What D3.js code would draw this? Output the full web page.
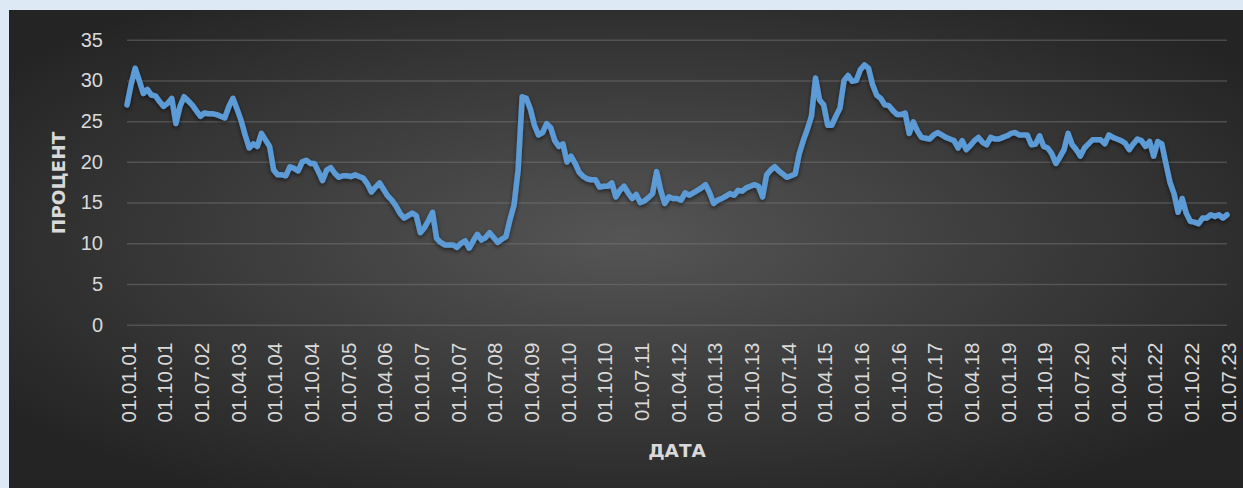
<!DOCTYPE html>
<html>
<head>
<meta charset="utf-8">
<script src="https://cdn.jsdelivr.net/npm/d3@7"></script>
<style>
  html, body { margin: 0; padding: 0; background: #dee9f6; }
  svg { display: block; }
</style>
</head>
<body>
<svg id="chart" width="1243" height="488"></svg>
<script>
// Monthly rate, %, January 2001 – July 2023
const rate = [
  27.0, 29.5, 31.5, 30.0, 28.4, 28.9, 28.2, 28.1, 27.4, 26.8, 27.2, 27.8, // 2001
  24.7, 26.8, 28.0, 27.5, 27.0, 26.3, 25.6, 26.0, 25.9, 25.9, 25.8, 25.6, // 2002
  25.4, 26.8, 27.8, 26.5, 25.1, 23.3, 21.7, 22.2, 21.9, 23.5, 22.7, 21.9, // 2003
  19.0, 18.4, 18.4, 18.3, 19.4, 19.2, 18.9, 20.0, 20.2, 19.8, 19.8, 18.8, // 2004
  17.7, 19.0, 19.3, 18.6, 18.1, 18.3, 18.3, 18.2, 18.4, 18.2, 18.0, 17.3, // 2005
  16.3, 16.9, 17.4, 16.6, 15.8, 15.3, 14.6, 13.7, 13.1, 13.4, 13.7, 13.4, // 2006
  11.3, 11.9, 12.8, 13.8, 10.6, 10.1,  9.8,  9.8,  9.8,  9.5, 10.0, 10.3, // 2007
   9.4, 10.3, 11.1, 10.4, 10.7, 11.3, 10.7, 10.1, 10.5, 10.8, 12.9, 14.7, // 2008
  19.0, 28.0, 27.8, 26.5, 24.5, 23.3, 23.6, 24.7, 24.2, 22.6, 21.9, 22.2, // 2009
  20.0, 20.7, 19.8, 18.7, 18.2, 17.9, 17.8, 17.8, 16.9, 17.0, 17.0, 17.4, // 2010
  15.7, 16.5, 17.0, 16.2, 15.5, 16.0, 15.0, 15.2, 15.6, 16.1, 18.8, 16.5, // 2011
  14.9, 15.7, 15.5, 15.5, 15.3, 16.2, 15.9, 16.2, 16.5, 16.8, 17.2, 16.2, // 2012
  14.9, 15.3, 15.5, 15.8, 16.1, 15.9, 16.5, 16.4, 16.8, 17.0, 17.2, 17.0, // 2013
  15.7, 18.4, 19.0, 19.4, 18.9, 18.5, 18.1, 18.3, 18.5, 21.0, 22.6, 24.0, // 2014
  25.6, 30.3, 27.6, 27.0, 24.5, 24.5, 25.6, 26.6, 30.0, 30.6, 29.9, 30.0, // 2015
  31.3, 31.9, 31.5, 29.5, 28.2, 27.8, 27.0, 26.9, 26.3, 25.8, 25.8, 26.0, // 2016
  23.5, 24.9, 23.8, 23.0, 22.9, 22.8, 23.3, 23.6, 23.3, 23.0, 22.8, 22.6, // 2017
  21.7, 22.6, 21.5, 22.0, 22.6, 23.0, 22.4, 22.1, 23.0, 22.8, 22.8, 23.0, // 2018
  23.2, 23.5, 23.6, 23.3, 23.3, 23.3, 22.1, 22.2, 23.2, 21.9, 21.7, 21.0, // 2019
  19.8, 20.6, 21.5, 23.5, 22.1, 21.5, 20.7, 21.7, 22.2, 22.7, 22.7, 22.7, // 2020
  22.2, 23.3, 23.0, 22.8, 22.6, 22.3, 21.5, 22.2, 22.8, 22.6, 21.9, 22.5, // 2021
  20.7, 22.5, 22.2, 19.8, 17.5, 16.1, 13.8, 15.5, 13.7, 12.7, 12.6, 12.4, // 2022
  13.1, 13.1, 13.5, 13.3, 13.5, 13.1, 13.5                                // 2023
];

// One category per month, labelled "01.MM.YY"
const fmt = d3.timeFormat("01.%m.%y");
const months = d3.timeMonth.range(new Date(2001, 0, 1), new Date(2023, 7, 1)).map(fmt);

// Category labels shown on the axis (every ninth month)
const xTickLabels = [
  "01.01.01", "01.10.01", "01.07.02", "01.04.03", "01.01.04", "01.10.04",
  "01.07.05", "01.04.06", "01.01.07", "01.10.07", "01.07.08", "01.04.09",
  "01.01.10", "01.10.10", "01.07.11", "01.04.12", "01.01.13", "01.10.13",
  "01.07.14", "01.04.15", "01.01.16", "01.10.16", "01.07.17", "01.04.18",
  "01.01.19", "01.10.19", "01.07.20", "01.04.21", "01.01.22", "01.10.22",
  "01.07.23"
];
const yTicks = [0, 5, 10, 15, 20, 25, 30, 35];

const yTitle = "ПРОЦЕНТ";
const xTitle = "ДАТА";

const svg = d3.select("#chart");
const defs = svg.append("defs");

// Dark panel with a lighter centre
const grad = defs.append("radialGradient")
  .attr("id", "panelFill")
  .attr("cx", "0.5").attr("cy", "0.48").attr("r", "0.62");
grad.append("stop").attr("offset", "0").attr("stop-color", "#555555");
grad.append("stop").attr("offset", "1").attr("stop-color", "#242424");

const shadow = defs.append("filter")
  .attr("id", "lineShadow")
  .attr("x", "-5%").attr("y", "-20%").attr("width", "110%").attr("height", "140%");
shadow.append("feDropShadow")
  .attr("dx", 0).attr("dy", 2).attr("stdDeviation", 2)
  .attr("flood-color", "#000").attr("flood-opacity", 0.55);

svg.append("rect")
  .attr("x", 9).attr("y", 10)
  .attr("width", 1243 - 9).attr("height", 488 - 10)
  .attr("fill", "url(#panelFill)");

const plot = { left: 127, right: 1227, top: 39.7, bottom: 324.7 };

const x = d3.scalePoint().domain(months).range([plot.left, plot.right]);
const y = d3.scaleLinear().domain([0, 35]).range([plot.bottom, plot.top]);

const font = "'Liberation Sans', Arial, sans-serif";
const titleFont = "'DejaVu Sans', sans-serif";
const textColor = "#d9d9d9";

// Horizontal gridlines
svg.append("g")
  .attr("transform", `translate(${plot.left},0)`)
  .call(d3.axisLeft(y).tickValues(yTicks).tickSize(-(plot.right - plot.left)).tickFormat(""))
  .call(g => g.select(".domain").remove())
  .call(g => g.selectAll(".tick line")
    .attr("stroke", "#7a7a7a").attr("stroke-opacity", 0.45).attr("stroke-width", 1.5));

// Y axis labels
svg.append("g")
  .attr("transform", `translate(${plot.left},0)`)
  .call(d3.axisLeft(y).tickValues(yTicks).tickSize(0).tickPadding(24))
  .call(g => g.select(".domain").remove())
  .call(g => g.selectAll("text")
    .attr("fill", textColor).style("font-family", font).style("font-size", "20px"));

// X axis labels, rotated
svg.append("g")
  .attr("transform", `translate(0,${plot.bottom})`)
  .call(d3.axisBottom(x).tickValues(xTickLabels).tickSize(0))
  .call(g => g.select(".domain").remove())
  .call(g => g.selectAll("text")
    .attr("fill", textColor)
    .style("font-family", font).style("font-size", "20.5px")
    .attr("text-anchor", "end")
    .attr("transform", "rotate(-90)")
    .attr("x", -18).attr("y", 1).attr("dy", "0.35em"));

// Data line
const line = d3.line()
  .x((d, i) => x(months[i]))
  .y(d => y(d));

svg.append("path")
  .datum(rate)
  .attr("d", line)
  .attr("fill", "none")
  .attr("stroke", "#5b9bd5")
  .attr("stroke-width", 5.5)
  .attr("stroke-linejoin", "round")
  .attr("stroke-linecap", "round")
  .attr("filter", "url(#lineShadow)");

// Axis titles
svg.append("text")
  .attr("transform", "translate(65,183) rotate(-90)")
  .attr("text-anchor", "middle")
  .attr("fill", textColor)
  .style("font-family", titleFont).style("font-size", "18.5px").style("font-weight", "bold")
  .text(yTitle);

svg.append("text")
  .attr("x", 677).attr("y", 457)
  .attr("text-anchor", "middle")
  .attr("fill", textColor)
  .style("font-family", titleFont).style("font-size", "18.5px").style("font-weight", "bold")
  .text(xTitle);
</script>
</body>
</html>
